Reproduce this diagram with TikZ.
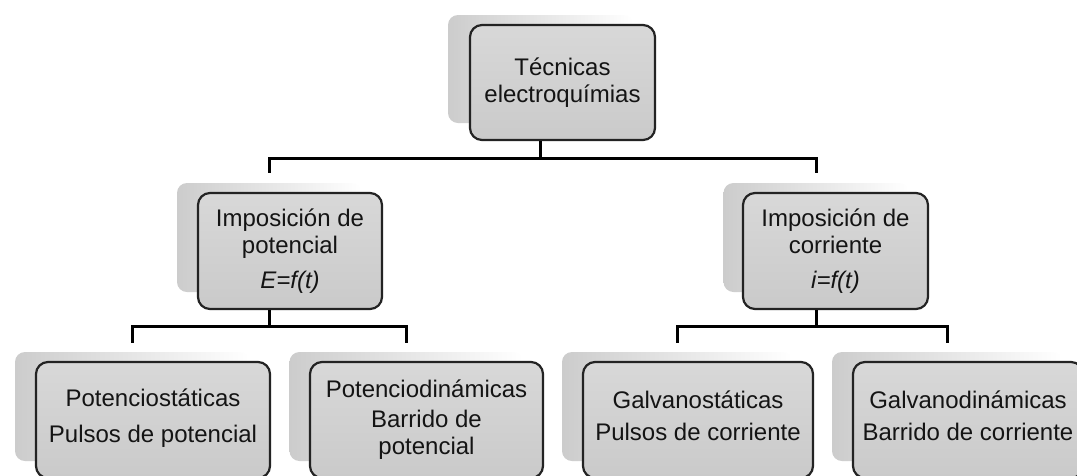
\documentclass[tikz,border=0pt]{standalone}
\usepackage{fontspec}
\setmainfont{Liberation Sans}
\definecolor{boxtop}{RGB}{216,216,216}
\definecolor{boxbot}{RGB}{202,202,202}
\definecolor{boxline}{RGB}{35,35,35}
\definecolor{txt}{RGB}{20,20,20}
\tikzset{
  panel/.style={draw=none, rounded corners=10pt, left color=black!20, right color=white, inner sep=0pt},
  box/.style={draw=boxline, line width=2.2pt, rounded corners=12pt, top color=boxtop, bottom color=boxbot,
              align=center, text=txt, inner sep=0pt, font=\fontsize{24}{27}\selectfont},
  conn/.style={draw=black, line width=3pt},
}
\begin{document}
\begin{tikzpicture}[x=1pt,y=-1pt]
\clip (0,0) rectangle (1077,475);
\fill[white] (0,0) rectangle (1077,475);
% shadow panels
\node[panel, minimum width=185pt, minimum height=108pt] (Tp) at (540.5,69) {};
\node[panel, minimum width=184pt, minimum height=109pt] (Lp) at (269,237.5) {};
\node[panel, minimum width=185pt, minimum height=109pt] (Rp) at (816,237.5) {};
\node[panel, minimum width=234pt, minimum height=109pt] (B1p) at (132,406.5) {};
\node[panel, minimum width=233pt, minimum height=109pt] (B2p) at (406,406.5) {};
\node[panel, minimum width=230pt, minimum height=109pt] (B3p) at (677,406.5) {};
\node[panel, minimum width=230pt, minimum height=109pt] (B4p) at (947,406.5) {};
% boxes
\node[box, minimum width=185pt, minimum height=115pt] (T) at (562.5,82.5) {Técnicas\\electroquímias};
\node[box, minimum width=184pt, minimum height=116pt] (L) at (290,251) {Imposición de\\potencial\\[8pt]\textit{E=f(t)}};
\node[box, minimum width=185pt, minimum height=116pt] (R) at (835.5,251) {Imposición de\\corriente\\[8pt]\textit{i=f(t)}};
\node[box, minimum width=234pt, minimum height=116pt] (B1) at (153,420) {\raisebox{0pt}[0pt][0pt]{}Potenciostáticas\\[9pt]Pulsos de potencial\rule[-8pt]{0pt}{0pt}};
\node[box, minimum width=233pt, minimum height=116pt] (B2) at (426.5,420) {Potenciodinámicas\\[3pt]Barrido de\\potencial};
\node[box, minimum width=230pt, minimum height=116pt] (B3) at (698,420) {Galvanostáticas\\[5pt]Pulsos de corriente\rule[-8pt]{0pt}{0pt}};
\node[box, minimum width=230pt, minimum height=116pt] (B4) at (968,420) {Galvanodinámicas\\[5pt]Barrido de corriente\rule[-8pt]{0pt}{0pt}};
% connectors
\draw[conn] (T.south -| Tp.center) -- ++(0,17) coordinate (j0);
\draw[conn] ([yshift=10pt]Lp.north) |- (j0) -| ([yshift=10pt]Rp.north);
\draw[conn] (L.south -| Lp.center) -- ++(0,16) coordinate (j1);
\draw[conn] ([yshift=9pt]B1p.north) |- (j1) -| ([yshift=9pt]B2p.north);
\draw[conn] (R.south -| Rp.center) -- ++(0,16) coordinate (j2);
\draw[conn] ([yshift=9pt]B3p.north) |- (j2) -| ([yshift=9pt]B4p.north);
\end{tikzpicture}
\end{document}
